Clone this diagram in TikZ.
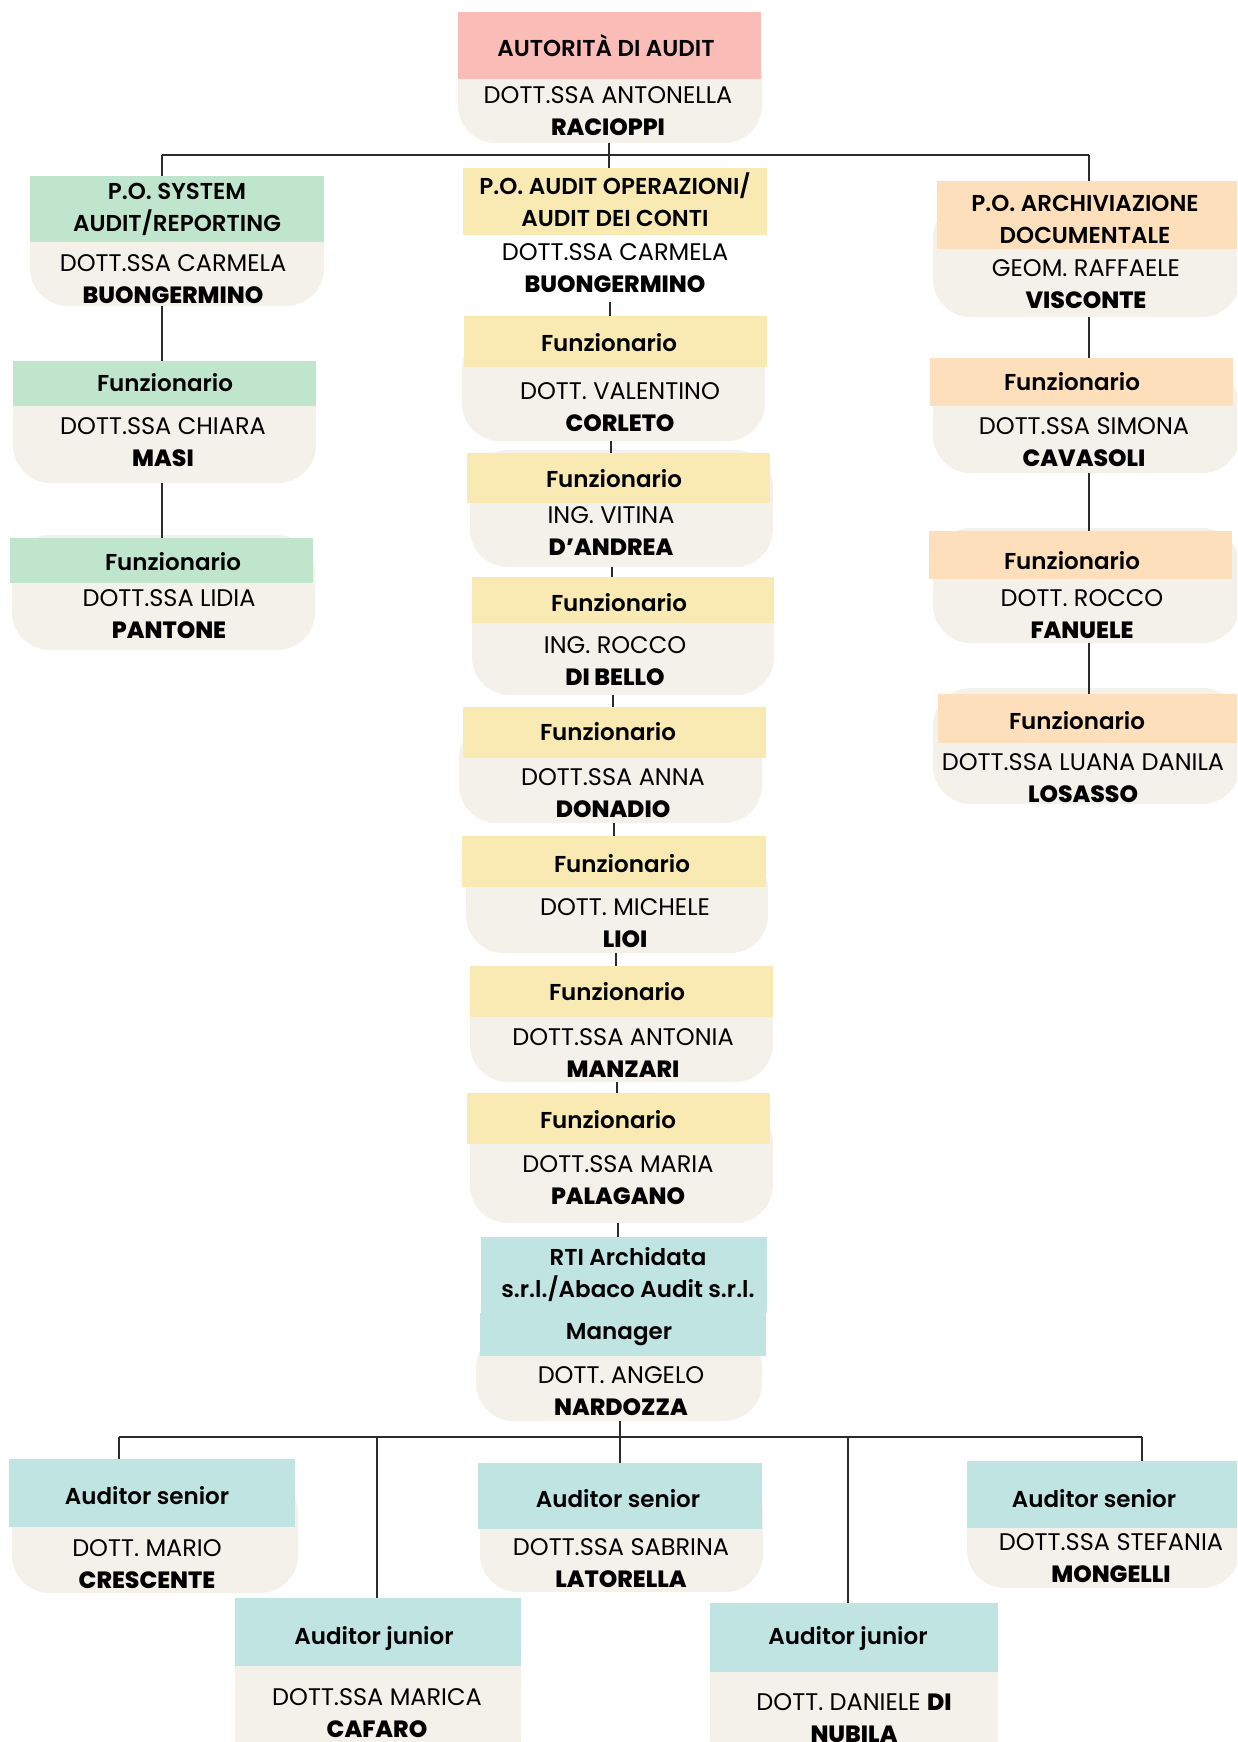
\documentclass[tikz,border=0pt]{standalone}
\usepackage{fontspec}
\setmainfont{Poppins}
\IfFontExistsTF{Poppins SemiBold}{\newfontfamily\hdfont{Poppins SemiBold}}{\newfontfamily\hdfont{Poppins}[UprightFont=*Bold]}
\IfFontExistsTF{Poppins ExtraBold}{\newfontfamily\nmfont{Poppins ExtraBold}}{\newfontfamily\nmfont{Poppins}[UprightFont=*Bold]}
\newcommand\nb[1]{{\nmfont\fontsize{23.5}{31.5}\selectfont #1}}
\definecolor{pinkH}{HTML}{F9BCB6}
\definecolor{greenH}{HTML}{BFE5CC}
\definecolor{yellowH}{HTML}{F8EAB2}
\definecolor{orangeH}{HTML}{FDDFBB}
\definecolor{tealH}{HTML}{C0E4E2}
\definecolor{beige}{HTML}{F4F0EA}
\definecolor{lineC}{HTML}{2B2B2B}
\tikzset{
  bg/.style={rectangle, rounded corners=38pt, fill=beige, inner sep=0pt, outer sep=0pt},
  hd/.style={rectangle, inner sep=0pt, outer sep=0pt},
  ht/.style={font=\hdfont\fontsize{23}{32}\selectfont, align=center, inner sep=0pt},
  nm/.style={font=\fontsize{24}{31.5}\selectfont, align=center, inner sep=0pt},
  ln/.style={draw=lineC, line width=1.8pt},
}
\newcommand\rbox[6]{\node[#1, minimum width={(#5-#3)*1pt}, minimum height={(#6-#4)*1pt}] (#2) at ({(#3+#5)/2},{(#4+#6)/2}) {};}
\newcommand\vlink[3]{\coordinate (v#1) at (#1,0); \draw[ln] (#2 -| v#1) -- (#3 -| v#1);}
\begin{document}
\begin{tikzpicture}[x=1pt,y=-1pt]
\useasboundingbox (0,0) rectangle (1237,1742);
\clip (0,0) rectangle (1237,1742);
\fill[white] (0,0) rectangle (1237,1742);

% ---------- boxes ----------
% top
\rbox{bg}{topb}{458}{40}{762}{143}
\rbox{hd,fill=pinkH}{toph}{458}{12}{761}{79}
% left column
\rbox{bg}{po1b}{30}{200}{324}{306}
\rbox{hd,fill=greenH}{po1h}{30}{176}{324}{242}
\rbox{bg}{masib}{13}{370}{316}{483}
\rbox{hd,fill=greenH}{masih}{13}{361}{316}{406}
\rbox{bg}{panb}{12}{535}{315}{650}
\rbox{hd,fill=greenH}{panh}{10}{538}{313}{583}
% center column
\rbox{hd,fill=yellowH}{poah}{463}{168}{767}{235}
\rbox{bg}{corb}{462}{330}{765}{441}
\rbox{hd,fill=yellowH}{corh}{464}{316}{767}{367}
\rbox{bg}{danb}{470}{450}{773}{567}
\rbox{hd,fill=yellowH}{danh}{467}{453}{770}{503}
\rbox{bg}{dibb}{472}{590}{774}{695}
\rbox{hd,fill=yellowH}{dibh}{472}{577}{774}{623}
\rbox{bg}{donb}{459}{720}{762}{823}
\rbox{hd,fill=yellowH}{donh}{463}{707}{766}{758}
\rbox{bg}{liob}{466}{850}{768}{953}
\rbox{hd,fill=yellowH}{lioh}{462}{836}{766}{887}
\rbox{bg}{manb}{470}{980}{773}{1082}
\rbox{hd,fill=yellowH}{manh}{470}{966}{773}{1017}
\rbox{bg}{palb}{470}{1105}{773}{1223}
\rbox{hd,fill=yellowH}{palh}{467}{1093}{770}{1144}
\rbox{bg}{rtib}{476}{1330}{762}{1421}
\rbox{hd,fill=tealH}{rtih}{481}{1237}{767}{1313}
\rbox{hd,fill=tealH}{mgrh}{480}{1313}{766}{1356}
% right column
\rbox{bg}{porb}{933}{200}{1240}{317}
\rbox{hd,fill=orangeH}{porh}{937}{181}{1240}{249}
\rbox{bg}{cavb}{933}{370}{1240}{473}
\rbox{hd,fill=orangeH}{cavh}{930}{358}{1233}{406}
\rbox{bg}{fanb}{933}{528}{1240}{643}
\rbox{hd,fill=orangeH}{fanh}{929}{531}{1232}{579}
\rbox{bg}{losb}{933}{688}{1240}{804}
\rbox{hd,fill=orangeH}{losh}{938}{694}{1240}{743}
% bottom row
\rbox{bg}{creb}{12}{1475}{298}{1593}
\rbox{hd,fill=tealH}{creh}{9}{1459}{295}{1527}
\rbox{bg}{cafb}{235}{1610}{521}{1775}
\rbox{hd,fill=tealH}{cafh}{235}{1598}{521}{1666}
\rbox{bg}{latb}{480}{1475}{763}{1592}
\rbox{hd,fill=tealH}{lath}{478}{1463}{762}{1529}
\rbox{bg}{nubb}{710}{1615}{998}{1775}
\rbox{hd,fill=tealH}{nubh}{710}{1603}{998}{1672}
\rbox{bg}{monb}{967}{1475}{1240}{1588}
\rbox{hd,fill=tealH}{monh}{967}{1461}{1240}{1528}

% ---------- connectors ----------
\coordinate (jT) at (609,155);
\coordinate (jL) at (162,155);
\coordinate (jR) at (1089,155);
\draw[ln] (jT |- topb.south) -- (jT);
\draw[ln] (jL) -- (jR);
\draw[ln] (jL) -- (jL |- po1h.north);
\draw[ln] (jR) -- (jR |- porh.north);
\draw[ln] (jT) -- (jT |- poah.north);
\draw[ln] (po1b.south -| jL) -- (masih.north -| jL);
\draw[ln] (masib.south -| jL) -- (panh.north -| jL);
\draw[ln] (porb.south -| jR) -- (cavh.north -| jR);
\draw[ln] (cavb.south -| jR) -- (fanh.north -| jR);
\draw[ln] (fanb.south -| jR) -- (losh.north -| jR);
\coordinate (poaEnd) at (610,302);
\draw[ln] (poaEnd) -- (poaEnd |- corh.north);
\vlink{611}{corb.south}{danh.north}
\vlink{612}{danb.south}{dibh.north}
\vlink{613}{dibb.south}{donh.north}
\vlink{614}{donb.south}{lioh.north}
\vlink{616}{liob.south}{manh.north}
\vlink{617}{manb.south}{palh.north}
\vlink{618}{palb.south}{rtih.north}
\coordinate (jB) at (620,1437);
\coordinate (jB1) at (119,1437);
\coordinate (jB2) at (377,1437);
\coordinate (jB4) at (848,1437);
\coordinate (jB5) at (1142,1437);
\draw[ln] (jB |- rtib.south) -- (jB);
\draw[ln] (jB1) -- (jB5);
\draw[ln] (jB1) -- (jB1 |- creh.north);
\draw[ln] (jB2) -- (jB2 |- cafh.north);
\draw[ln] (jB) -- (jB |- lath.north);
\draw[ln] (jB4) -- (jB4 |- nubh.north);
\draw[ln] (jB5) -- (jB5 |- monh.north);

% ---------- texts ----------
\node[ht] (topt) at (606,46) {AUTORITÀ DI AUDIT};
\node[nm] (topn) at (608,111) {DOTT.SSA ANTONELLA\\\nb{RACIOPPI}};

\node[ht] (po1t) at (177,209) {P.O. SYSTEM\\AUDIT/REPORTING};
\node[nm] (po1n) at (173,279) {DOTT.SSA CARMELA\\\nb{BUONGERMINO}};
\node[ht] (masit) at (165,383) {Funzionario};
\node[nm] (masin) at (163,442) {DOTT.SSA CHIARA\\\nb{MASI}};
\node[ht] (pant) at (173,562) {Funzionario};
\node[nm] (pann) at (169,614) {DOTT.SSA LIDIA\\\nb{PANTONE}};

\node[ht] (poat) at (615,200) {P.O. AUDIT OPERAZIONI/\\AUDIT DEI CONTI};
\node[nm] (poan) at (615,268) {DOTT.SSA CARMELA\\\nb{BUONGERMINO}};
\node[ht] (cort) at (609,343) {Funzionario};
\node[nm] (corn) at (620,407) {DOTT. VALENTINO\\\nb{CORLETO}};
\node[ht] (dant) at (614,479) {Funzionario};
\node[nm] (dann) at (611,531) {ING. VITINA\\\nb{D’ANDREA}};
\node[ht] (dibt) at (619,603) {Funzionario};
\node[nm] (dibn) at (615,661) {ING. ROCCO\\\nb{DI BELLO}};
\node[ht] (dont) at (608,732) {Funzionario};
\node[nm] (donn) at (613,793) {DOTT.SSA ANNA\\\nb{DONADIO}};
\node[ht] (liot) at (622,864) {Funzionario};
\node[nm] (lion) at (625,923) {DOTT. MICHELE\\\nb{LIOI}};
\node[ht] (mant) at (617,992) {Funzionario};
\node[nm] (mann) at (623,1053) {DOTT.SSA ANTONIA\\\nb{MANZARI}};
\node[ht] (palt) at (608,1120) {Funzionario};
\node[nm] (paln) at (618,1180) {DOTT.SSA MARIA\\\nb{PALAGANO}};
\node[ht] (rtit) at (628,1275) {RTI Archidata\\s.r.l./Abaco Audit s.r.l.};
\node[ht] (mgrt) at (619,1335) {Manager};
\node[nm] (rtin) at (621,1391) {DOTT. ANGELO\\\nb{NARDOZZA}};

\node[ht] (port) at (1085,219) {P.O. ARCHIVIAZIONE\\DOCUMENTALE};
\node[nm] (porn) at (1086,284) {GEOM. RAFFAELE\\\nb{VISCONTE}};
\node[ht] (cavt) at (1072,382) {Funzionario};
\node[nm] (cavn) at (1084,442) {DOTT.SSA SIMONA\\\nb{CAVASOLI}};
\node[ht] (fant) at (1072,561) {Funzionario};
\node[nm] (fann) at (1082,614) {DOTT. ROCCO\\\nb{FANUELE}};
\node[ht] (lost) at (1077,721) {Funzionario};
\node[nm] (losn) at (1083,778) {DOTT.SSA LUANA DANILA\\\nb{LOSASSO}};

\node[ht] (cret) at (147,1496) {Auditor senior};
\node[nm] (cren) at (147,1564) {DOTT. MARIO\\\nb{CRESCENTE}};
\node[ht] (caft) at (374,1638) {Auditor junior};
\node[nm] (cafn) at (377,1713) {DOTT.SSA MARICA\\\nb{CAFARO}};
\node[ht] (latt) at (618,1499) {Auditor senior};
\node[nm] (latn) at (621,1563) {DOTT.SSA SABRINA\\\nb{LATORELLA}};
\node[ht] (nubt) at (848,1638) {Auditor junior};
\node[nm] (nubn) at (854,1718) {DOTT. DANIELE \nb{DI}\\\nb{NUBILA}};
\node[ht] (mont) at (1094,1499) {Auditor senior};
\node[nm] (monn) at (1111,1558) {DOTT.SSA STEFANIA\\\nb{MONGELLI}};
\end{tikzpicture}
\end{document}
